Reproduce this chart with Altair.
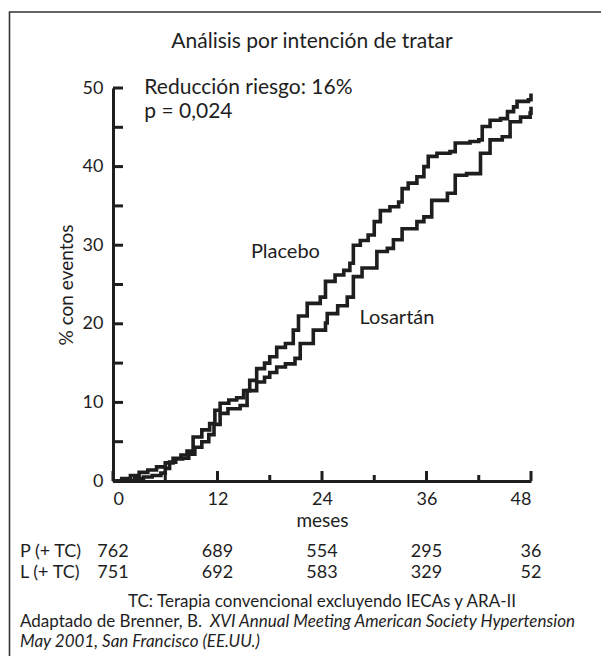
import altair as alt
import pandas as pd

# ---- data ----
placebo_month = [0, 1, 2, 3, 4, 5, 6, 6.9, 7.8, 8.5, 9.2, 10.2, 11.1, 11.7, 12.3, 13.3, 14.2, 15, 15.7,
                 16.5, 17.4, 18, 18.8, 19.8, 20.7, 21.3, 22.3, 23.8, 24.4, 25.5, 26.5, 27.2, 27.6, 28.4,
                 29.3, 30.0, 30.7, 31.8, 32.8, 33.2, 33.9, 34.9, 35.7, 36.2, 37.2, 38.7, 39.3, 41, 42,
                 42.4, 43.3, 44.5, 45.3, 46, 46.4, 47.7, 48]
placebo_pct = [0, 0.3, 0.7, 1.1, 1.4, 1.8, 2.3, 2.9, 3.3, 3.8, 5.6, 6.5, 7.3, 9.0, 9.9, 10.3, 10.6, 11.5, 12.8,
               14.3, 15.0, 15.8, 17.0, 17.5, 19.2, 21.0, 22.6, 23.4, 25.4, 26.2, 26.8, 27.7, 30.0, 30.6,
               31.3, 33.0, 34.4, 34.9, 35.5, 37.2, 37.9, 38.7, 40.0, 41.3, 41.7, 41.9, 43.0, 43.2, 43.4,
               45.1, 45.9, 46.1, 47.0, 47.6, 48.3, 48.5, 49.3]

losartan_month = [0, 1.5, 2.5, 3.5, 4.5, 5.5, 6, 6.5, 7.2, 8.0, 8.7, 9.4, 10.2, 11.0, 11.6, 12.3, 13.2, 14.6,
                  15.4, 16.5, 17.4, 18, 18.8, 19.8, 20.9, 21.5, 23, 24.4, 24.6, 25.8, 26.9, 27.6, 28.6,
                  30.3, 31.5, 32.2, 33.2, 34.9, 35.7, 36.6, 38.4, 39.3, 40.6, 42.2, 43.3, 44.7, 45.6,
                  46.8, 47.9, 48]
losartan_pct = [0, 0.1, 0.3, 0.5, 0.7, 1.0, 1.6, 2.4, 2.8, 2.9, 3.4, 4.3, 5.0, 5.9, 7.2, 8.6, 9.2, 9.6,
                11.5, 12.6, 13.2, 13.8, 14.5, 14.9, 15.6, 17.5, 19.2, 20.1, 21.3, 22.3, 23.4, 26.0, 27.1,
                29.2, 29.6, 30.7, 32.1, 33.0, 33.6, 35.7, 36.6, 38.9, 39.1, 41.7, 43.4, 43.8, 45.7,
                46.3, 46.8, 47.6]

x_label_values = [0, 12, 24, 36, 48]
x_minor_ticks = [6, 18, 30, 42]
y_label_values = [0, 10, 20, 30, 40, 50]
y_ticks = [0, 5, 10, 15, 20, 25, 30, 35, 40, 45, 50]

risk_months = [0, 12, 24, 36, 48]
risk_placebo = ["762", "689", "554", "295", "36"]
risk_losartan = ["751", "692", "583", "329", "52"]

title_text = "Análisis por intención de tratar"
stat_lines = ["Reducción riesgo: 16%", "p = 0,024"]
series_labels = ["Placebo", "Losartán"]

FONT = "Lato"
INK = "#1e1e1e"

W, H = 418, 393

curves = pd.DataFrame(
    [{"mes": m, "pct": p, "grupo": "Placebo"} for m, p in zip(placebo_month, placebo_pct)]
    + [{"mes": m, "pct": p, "grupo": "Losartán"} for m, p in zip(losartan_month, losartan_pct)]
)

xs = alt.Scale(domain=[0, 48], nice=False, zero=False)
ys = alt.Scale(domain=[0, 50], nice=False)

xa = alt.Axis(
    values=x_label_values, ticks=False, domainWidth=3, domainColor=INK,
    labelFont=FONT, labelFontSize=18, labelColor=INK, labelPadding=9,
    title="meses", titleFont=FONT, titleFontSize=19, titleFontWeight="normal",
    titleColor=INK, titlePadding=3, grid=False)
ya = alt.Axis(
    values=y_label_values, ticks=False, domainWidth=3, domainColor=INK,
    labelFont=FONT, labelFontSize=18, labelColor=INK, labelPadding=10,
    title="% con eventos", titleFont=FONT, titleFontSize=19, titleFontWeight="normal",
    titleColor=INK, titlePadding=6, grid=False)


def X(f):
    return alt.X(f, scale=xs, axis=xa)


def Y(f):
    return alt.Y(f, scale=ys, axis=ya)


lines = alt.Chart(curves).mark_line(
    interpolate="step-after", strokeWidth=3.6, color=INK, strokeJoin="miter"
).encode(x=X("mes:Q"), y=Y("pct:Q"), detail="grupo:N")

# inward ticks
ytick = alt.Chart(pd.DataFrame({"v": y_ticks})).mark_rule(strokeWidth=3, color=INK).encode(
    y=Y("v:Q"), x=alt.value(0), x2=alt.value(10))
xmaj = alt.Chart(pd.DataFrame({"v": x_label_values})).mark_rule(strokeWidth=3, color=INK).encode(
    x=X("v:Q"), y=alt.value(H), y2=alt.value(H - 10))
xmin = alt.Chart(pd.DataFrame({"v": x_minor_ticks})).mark_rule(strokeWidth=3, color=INK).encode(
    x=X("v:Q"), y=alt.value(H), y2=alt.value(H - 6))

# annotations in data space
ann = pd.DataFrame({
    "txt": stat_lines + series_labels,
    "mes": [3.6, 3.6, 19.8, 32.6],
    "pct": [50.0, 47.0, 29.1, 20.7],
})
ann_left = alt.Chart(ann.iloc[:2]).mark_text(
    align="left", baseline="middle", font=FONT, fontSize=21, color=INK
).encode(x=X("mes:Q"), y=Y("pct:Q"), text="txt:N")
ann_mid = alt.Chart(ann.iloc[2:]).mark_text(
    align="center", baseline="middle", font=FONT, fontSize=20, color=INK
).encode(x=X("mes:Q"), y=Y("pct:Q"), text="txt:N")

one = pd.DataFrame({"k": [0]})

title = alt.Chart(one).mark_text(
    align="center", baseline="middle", font=FONT, fontSize=21, color=INK, text=title_text
).encode(x=alt.value(199), y=alt.value(-46))

frame = alt.Chart(one).mark_rect(
    filled=False, stroke="#333333", strokeWidth=1.6
).encode(x=alt.value(-103.5), x2=alt.value(560), y=alt.value(-76), y2=alt.value(700))

# number-at-risk rows
risk = pd.DataFrame({"mes": risk_months, "p": risk_placebo, "l": risk_losartan})
row_p = alt.Chart(risk).mark_text(
    align="center", baseline="middle", font=FONT, fontSize=18, color=INK
).encode(x=X("mes:Q"), y=alt.value(552 - 88), text="p:N")
row_l = alt.Chart(risk).mark_text(
    align="center", baseline="middle", font=FONT, fontSize=18, color=INK
).encode(x=X("mes:Q"), y=alt.value(573 - 88), text="l:N")
row_p_name = alt.Chart(one).mark_text(
    align="left", baseline="middle", font=FONT, fontSize=18, color=INK, text="P (+ TC)"
).encode(x=alt.value(20 - 113), y=alt.value(552 - 88))
row_l_name = alt.Chart(one).mark_text(
    align="left", baseline="middle", font=FONT, fontSize=18, color=INK, text="L (+ TC)"
).encode(x=alt.value(20 - 113), y=alt.value(573 - 88))

FS = 17
foot1 = alt.Chart(one).mark_text(
    align="center", baseline="middle", font=FONT, fontSize=FS, color=INK,
    text="TC: Terapia convencional excluyendo IECAs y ARA-II"
).encode(x=alt.value(322 - 113), y=alt.value(602 - 88))
foot2a = alt.Chart(one).mark_text(
    align="left", baseline="middle", font=FONT, fontSize=FS, color=INK,
    text="Adaptado de Brenner, B."
).encode(x=alt.value(20 - 113), y=alt.value(622 - 88))
foot2b = alt.Chart(one).mark_text(
    align="left", baseline="middle", font=FONT, fontSize=FS, color=INK, fontStyle="italic",
    text="XVI Annual Meeting American Society Hypertension"
).encode(x=alt.value(210 - 113), y=alt.value(622 - 88))
foot3 = alt.Chart(one).mark_text(
    align="left", baseline="middle", font=FONT, fontSize=FS, color=INK, fontStyle="italic",
    text="May 2001, San Francisco (EE.UU.)"
).encode(x=alt.value(20 - 113), y=alt.value(642 - 88))

chart = alt.layer(
    frame, lines, ytick, xmaj, xmin, ann_left, ann_mid, title,
    row_p, row_l, row_p_name, row_l_name, foot1, foot2a, foot2b, foot3
).properties(
    width=W, height=H,
    autosize=alt.AutoSizeParams(type="none"),
    padding={"left": 105, "top": 80, "right": 593 - 105 - W, "bottom": 648 - 80 - H},
    background="white",
).configure_view(stroke=None)

chart.save("out.html", embed_options={"renderer": "svg", "actions": False})
